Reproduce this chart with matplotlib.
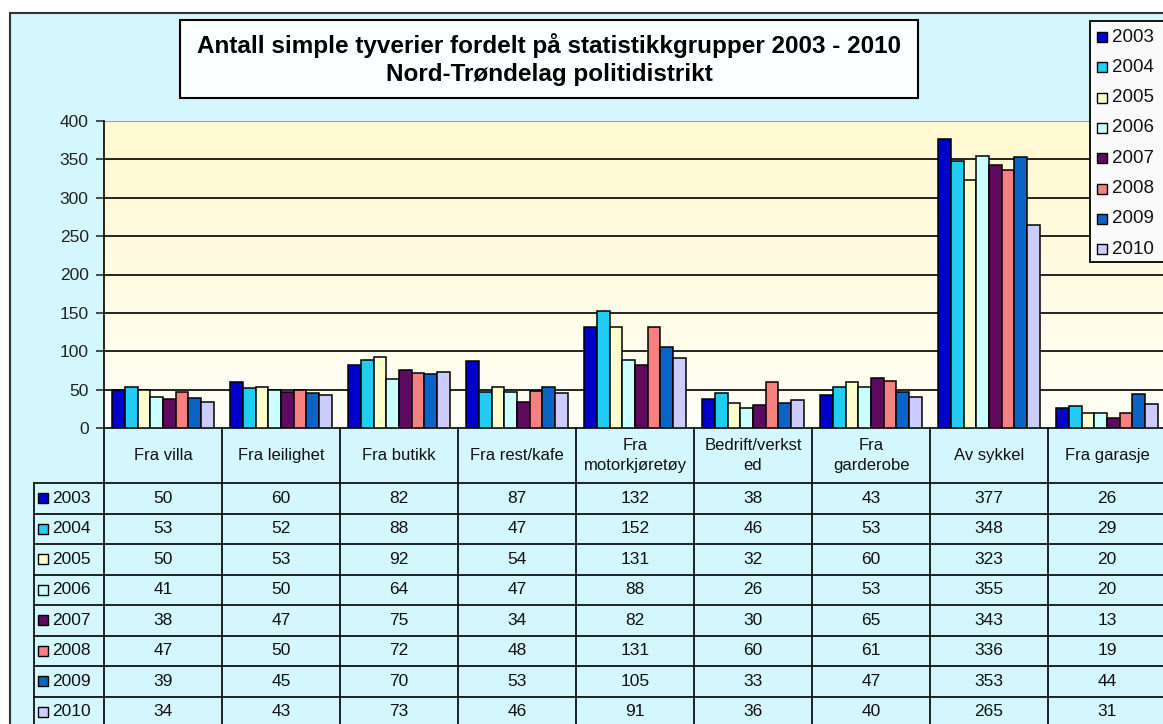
import matplotlib.pyplot as plt
from matplotlib.patches import Rectangle
from matplotlib.colors import LinearSegmentedColormap
import numpy as np

plt.rcParams['font.family'] = ['Liberation Sans', 'DejaVu Sans']

categories = ["Fra villa", "Fra leilighet", "Fra butikk", "Fra rest/kafe",
              "Fra\nmotorkjøretøy", "Bedrift/verkst\ned", "Fra\ngarderobe",
              "Av sykkel", "Fra garasje"]
years = ["2003", "2004", "2005", "2006", "2007", "2008", "2009", "2010"]
v2003 = [50, 60, 82, 87, 132, 38, 43, 377, 26]
v2004 = [53, 52, 88, 47, 152, 46, 53, 348, 29]
v2005 = [50, 53, 92, 54, 131, 32, 60, 323, 20]
v2006 = [41, 50, 64, 47, 88, 26, 53, 355, 20]
v2007 = [38, 47, 75, 34, 82, 30, 65, 343, 13]
v2008 = [47, 50, 72, 48, 131, 60, 61, 336, 19]
v2009 = [39, 45, 70, 53, 105, 33, 47, 353, 44]
v2010 = [34, 43, 73, 46, 91, 36, 40, 265, 31]
series = [v2003, v2004, v2005, v2006, v2007, v2008, v2009, v2010]
colors = ["#0000CC", "#22CCF2", "#FFFFCC", "#CCFFFF",
          "#5E0A5E", "#F58080", "#0A64C4", "#CCCCFF"]

W, H = 1163, 724
fig = plt.figure(figsize=(W / 100, H / 100), dpi=100)
fig.patch.set_facecolor("white")

# chart area (light cyan with border) drawn in pixel coordinates
bg = fig.add_axes([0, 0, 1, 1], zorder=-5)
bg.set_xlim(0, W)
bg.set_ylim(H, 0)
bg.axis("off")
bg.add_patch(Rectangle((10, 13), 1250, 800, facecolor="#D3F7FC",
                       edgecolor="#333333", lw=1.5))

# plot area: 118 px per category, starting at x=104
cat_w = 118
left, top, bottom = 104, 121, 428
ax = fig.add_axes([left / W, (H - bottom) / H, 9 * cat_w / W, (bottom - top) / H], zorder=1)
ax.set_xlim(0, 9)
ax.set_ylim(0, 400)
ax.set_facecolor("none")

grad = np.linspace(0, 1, 256).reshape(-1, 1)
cmap = LinearSegmentedColormap.from_list("bgyel", ["#FFFFF6", "#FFF8CF"])
ax.imshow(grad, extent=[0, 9, 0, 400], origin="lower", aspect="auto",
          cmap=cmap, zorder=0)

for y in range(50, 400, 50):
    ax.axhline(y, color="black", lw=1.2, zorder=1)
ax.axhline(400, color="#7F8F8F", lw=1.2, zorder=1)

x = np.arange(len(categories)) + 0.5
bw = 0.107
for j, vals in enumerate(series):
    ax.bar(x + (j - 3.5) * bw, vals, width=bw, color=colors[j],
           edgecolor="black", linewidth=1.1, zorder=3)

ax.set_yticks(range(0, 401, 50))
ax.set_xticks([])
ax.tick_params(axis="y", direction="out", length=6, width=1.1,
               labelsize=12.5, pad=5, colors="#222222")
for s in ["top", "right"]:
    ax.spines[s].set_visible(False)
ax.spines["left"].set_linewidth(1.2)
ax.spines["bottom"].set_linewidth(1.2)

# data table below the plot
row0 = 55
rh = 30.5
tab_left = 34
tb = fig.add_axes([tab_left / W, (H - 728) / H, (left + 9 * cat_w - tab_left) / W, 300 / H], zorder=2)
tb.set_xlim(-(left - tab_left) / cat_w, 9)
tb.set_ylim(300, 0)
tb.axis("off")
xl = -(left - tab_left) / cat_w
for i in range(10):
    tb.plot([i, i], [0, 300], color="black", lw=1.2, clip_on=False)
tb.plot([xl, xl], [row0, 300], color="black", lw=1.2, clip_on=False)
for k in range(9):
    tb.plot([xl, 9], [row0 + k * rh] * 2, color="black", lw=1.2, clip_on=False)

for i, c in enumerate(categories):
    tb.text(i + 0.5, row0 / 2, c, ha="center", va="center", fontsize=12,
            linespacing=1.45, color="#111111")

for j, vals in enumerate(series):
    yc = row0 + (j + 0.5) * rh
    tb.add_patch(Rectangle((xl + 4 / cat_w, yc - 5), 10 / cat_w, 10,
                           facecolor=colors[j], edgecolor="black", lw=1))
    tb.text(xl + 18 / cat_w, yc, years[j], ha="left", va="center",
            fontsize=12.5, color="#111111")
    for i, v in enumerate(vals):
        tb.text(i + 0.5, yc, str(v), ha="center", va="center",
                fontsize=12.5, color="#111111")

# title box and legend on top
ov = fig.add_axes([0, 0, 1, 1], zorder=6)
ov.set_xlim(0, W)
ov.set_ylim(H, 0)
ov.axis("off")
ov.patch.set_alpha(0)
ov.add_patch(Rectangle((180, 20), 738, 78, facecolor="#FCFFFF",
                       edgecolor="black", lw=1.5))
ov.text(549, 45, "Antall simple tyverier fordelt på statistikkgrupper 2003 - 2010",
        ha="center", va="center", fontsize=17.5, fontweight="bold")
ov.text(549, 74, "Nord-Trøndelag politidistrikt",
        ha="center", va="center", fontsize=17.5, fontweight="bold")

ov.add_patch(Rectangle((1090, 21), 120, 241, facecolor="#FAFAFA",
                       edgecolor="black", lw=1.3))
for j, yr in enumerate(years):
    yc = 37 + j * 30.3
    ov.add_patch(Rectangle((1097, yc - 5), 10, 10, facecolor=colors[j],
                           edgecolor="black", lw=1))
    ov.text(1112, yc, yr, ha="left", va="center", fontsize=13.5, color="#111111")

fig.savefig("out.png", dpi=100)
